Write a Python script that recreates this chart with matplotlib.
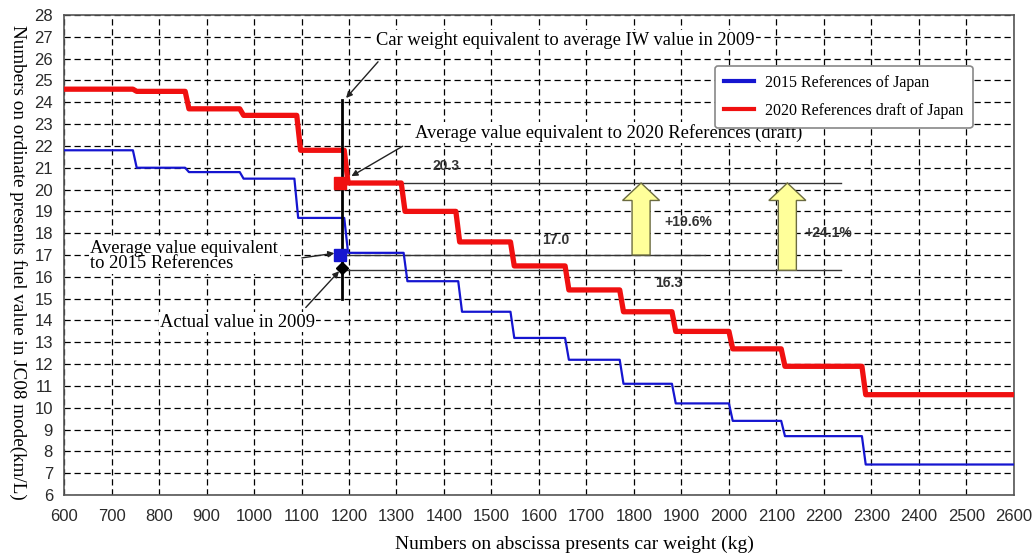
import numpy as np
import matplotlib
matplotlib.use("Agg")
import matplotlib.pyplot as plt
from matplotlib.patches import FancyArrow

# step curves (kg edges, km/L values)
red_edges = [600, 745, 855, 970, 1090, 1190, 1310, 1425, 1540, 1655, 1770, 1880, 2000, 2110, 2280, 2600]
red_vals = [24.6, 24.5, 23.7, 23.4, 21.8, 20.3, 19.0, 17.6, 16.5, 15.4, 14.4, 13.5, 12.7, 11.9, 10.6]
blue_edges = [600, 745, 855, 970, 1085, 1190, 1315, 1430, 1540, 1655, 1770, 1880, 2000, 2110, 2280, 2600]
blue_vals = [21.8, 21.0, 20.8, 20.5, 18.7, 17.1, 15.8, 14.4, 13.2, 12.2, 11.1, 10.2, 9.4, 8.7, 7.4]

iw_weight = 1185
avg_2020 = 20.3
avg_2015 = 17.0
actual_2009 = 16.3
pct_labels = ["+19.6%", "+24.1%"]

x_ticks = list(range(600, 2700, 100))
y_ticks = list(range(6, 29))

serif = ["Liberation Serif", "DejaVu Serif"]
sans = ["Liberation Sans", "DejaVu Sans"]


def slanted(edges, vals, slant=8):
    # small slope on each riser, like the scanned drawing
    xs, ys = [edges[0]], [vals[0]]
    for i in range(1, len(vals)):
        xs += [edges[i], edges[i] + slant]
        ys += [vals[i - 1], vals[i]]
    xs.append(edges[-1])
    ys.append(vals[-1])
    return xs, ys


fig = plt.figure(figsize=(10.33, 5.55), dpi=100)
ax = fig.add_axes([0.062, 0.108, 0.9195, 0.865])
ax.set_xlim(600, 2600)
ax.set_ylim(6, 28)
ax.set_xticks(x_ticks)
ax.set_yticks(y_ticks)
ax.tick_params(length=0, labelsize=12, labelcolor="#2a2a2a")
ax.tick_params(axis="x", pad=10)
ax.tick_params(axis="y", pad=8)
for lab in ax.get_xticklabels() + ax.get_yticklabels():
    lab.set_family(sans)
ax.grid(True, color="black", linestyle=(0, (5, 3)), linewidth=0.9)
for s in ax.spines.values():
    s.set_color("#555555")
    s.set_linewidth(1.2)

bx, by = slanted(blue_edges, blue_vals)
rx, ry = slanted(red_edges, red_vals)
ax.plot(bx, by, color="#1515d0", lw=1.6, label="2015 References of Japan", zorder=4)
ax.plot(rx, ry, color="#f01010", lw=3.8, label="2020 References draft of Japan", zorder=4)

# reference lines
ax.plot([iw_weight, iw_weight], [15.0, 24.1], color="black", lw=2, zorder=5)
ax.plot([iw_weight, 2235], [avg_2020, avg_2020], color="#333333", lw=1, zorder=3)
ax.plot([iw_weight, 1950], [avg_2015, avg_2015], color="#333333", lw=1, zorder=3)
ax.plot([iw_weight, 2235], [actual_2009, actual_2009], color="#333333", lw=1, zorder=3)

ax.plot([iw_weight - 5], [avg_2020], marker="s", ms=8, color="#f01010", zorder=6)
ax.plot([iw_weight - 3], [avg_2015], marker="s", ms=8, color="#1515d0", zorder=6)
ax.plot([iw_weight], [actual_2009 + 0.1], marker="D", ms=6, color="black", zorder=6)

# yellow arrows
for xa, y0 in [(1815, avg_2015), (2123, actual_2009)]:
    ax.add_patch(FancyArrow(xa, y0, 0, avg_2020 - y0, width=38, head_width=78,
                            head_length=0.8, length_includes_head=True,
                            facecolor="#ffff9a", edgecolor="#6b6b40", lw=1, zorder=5))

ax.text(1915, 18.5, pct_labels[0], fontsize=10, fontweight="bold", color="#333333",
        family=sans, ha="center", va="center", zorder=6)
ax.text(2210, 18.0, pct_labels[1], fontsize=10, fontweight="bold", color="#333333",
        family=sans, ha="center", va="center", zorder=6)
ax.text(1404, 21.1, "20.3", fontsize=10, fontweight="bold", color="#333333",
        family=sans, ha="center", va="center", zorder=6)
ax.text(1636, 17.7, "17.0", fontsize=10, fontweight="bold", color="#333333",
        family=sans, ha="center", va="center", zorder=6)
ax.text(1874, 15.7, "16.3", fontsize=10, fontweight="bold", color="#333333",
        family=sans, ha="center", va="center", zorder=6)

box = dict(facecolor="white", edgecolor="none", pad=1)
arrow = dict(arrowstyle="-|>", color="#222222", lw=1, mutation_scale=9)
ax.text(1256, 26.85, "Car weight equivalent to average IW value in 2009", fontsize=13.3,
        family=serif, ha="left", va="center", bbox=box, zorder=7)
ax.annotate("", xy=(1190, 24.1), xytext=(1265, 25.95), arrowprops=arrow, zorder=7)

ax.text(1340, 22.6, "Average value equivalent to 2020 References (draft)", fontsize=13.3,
        family=serif, ha="left", va="center", bbox=box, zorder=7)
ax.annotate("", xy=(1200, 20.55), xytext=(1318, 22.05), arrowprops=arrow, zorder=7)

ax.text(655, 16.95, "Average value equivalent\nto 2015 References", fontsize=13.3,
        family=serif, ha="left", va="center", linespacing=0.9, bbox=box, zorder=7)
ax.annotate("", xy=(1175, 17.1), xytext=(1095, 16.85), arrowprops=arrow, zorder=7)

ax.text(802, 13.93, "Actual value in 2009", fontsize=13.3,
        family=serif, ha="left", va="center", bbox=box, zorder=7)
ax.annotate("", xy=(1183, 16.35), xytext=(1105, 14.5), arrowprops=arrow, zorder=7)

leg = ax.legend(loc="upper left", bbox_to_anchor=(0.677, 0.91), frameon=True, fancybox=True,
                prop={"family": serif, "size": 11.5}, handlelength=1.9, handletextpad=0.7,
                borderpad=0.55, labelspacing=0.75)
leg.get_frame().set_edgecolor("#888888")
leg.get_frame().set_linewidth(1.2)
leg.get_frame().set_alpha(1)
leg.set_zorder(8)
for h in leg.get_lines():
    h.set_linewidth(3)

ax.set_xlabel("Numbers on abscissa presents car weight (kg)", fontsize=14, family=serif)
ax.xaxis.set_label_coords(0.537, -0.085)
ax.set_ylabel("Numbers on ordinate presents fuel value in JC08 mode(km/L)", fontsize=13.8,
              family=serif, rotation=270, va="center")
ax.yaxis.set_label_coords(-0.048, 0.485)

fig.savefig("out.png", dpi=100)
